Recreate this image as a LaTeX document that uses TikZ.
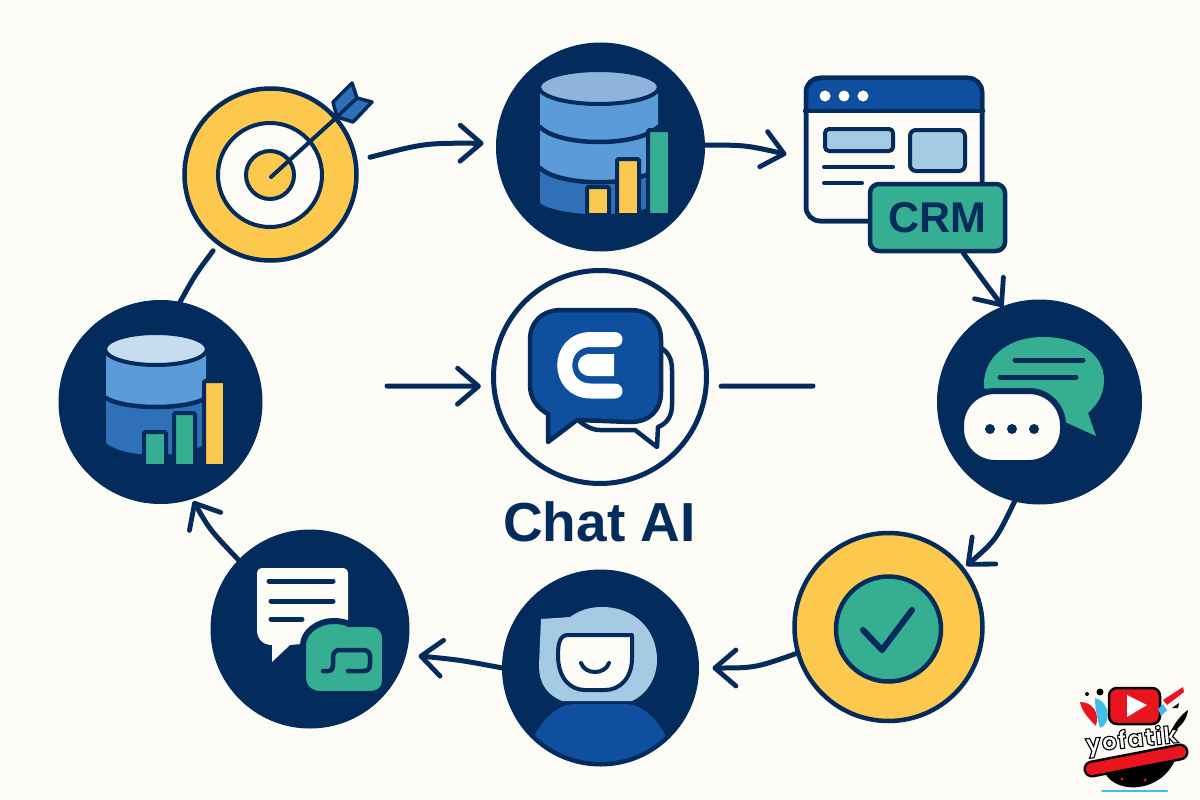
\documentclass[tikz,border=0pt]{standalone}
\usepackage{fontspec}
\setmainfont{Liberation Sans}
\newfontfamily\logofont[LetterSpace=4]{Poppins}
\usetikzlibrary{arrows.meta}
\definecolor{bg}{HTML}{FDFBF6}
\definecolor{navy}{HTML}{032B5C}
\definecolor{sun}{HTML}{FCC84E}
\definecolor{teal}{HTML}{36AE92}
\definecolor{royal}{HTML}{0F4F9F}
\definecolor{pale}{HTML}{A6CAE3}
\definecolor{midblue}{HTML}{5B9BD8}
\definecolor{deepblue}{HTML}{2F70B9}
\definecolor{topblue}{HTML}{8FB3DD}
\definecolor{topice}{HTML}{C5DDEE}
\definecolor{logored}{HTML}{E8141E}
\definecolor{logocyan}{HTML}{3FBDEB}
\tikzset{
  disc/.style={circle,inner sep=0pt,outer sep=0pt,fill=navy,draw=navy,line width=1pt},
  ring/.style={circle,inner sep=0pt,outer sep=0pt,draw=navy,line width=4.5pt},
  conn/.style={draw=navy,line width=5pt,line cap=round,line join=round},
  arr/.style={conn,-{Straight Barb[length=21pt,width=36pt,line width=4.8pt,round]}},
  ink/.style={draw=navy,line width=4.5pt,line cap=round,line join=round},
  thin/.style={draw=navy,line width=4pt,line cap=round,line join=round},
  bar/.style={draw=navy,line width=4pt,rounded corners=1.5pt},
  stripe/.style={draw=navy,line width=5pt,line cap=round},
}
\begin{document}
\begin{tikzpicture}[x=1pt,y=-1pt]
\useasboundingbox (0,0) rectangle (1200,800);
\fill[bg] (0,0) rectangle (1200,800);

% ---------- main nodes
\node[ring,fill=sun,minimum size=172pt] (target) at (270.5,174.5) {};
\node[disc,minimum size=208pt] (db1) at (600.5,147) {};
\node[draw=navy,fill=bg,line width=4.5pt,rounded corners=14pt,minimum width=176pt,minimum height=143pt,inner sep=0pt,outer sep=0pt] (crmwin) at (894,149.5) {};
\node[disc,minimum size=204pt] (chat) at (1039.5,402) {};
\node[ring,fill=sun,minimum size=188pt] (check) at (888.5,627) {};
\node[disc,minimum size=196pt] (avatar) at (600.5,668) {};
\node[disc,minimum size=198pt] (msg) at (310,629) {};
\node[disc,minimum size=203pt] (db2) at (160.5,402) {};
\node[ring,line width=5pt,minimum size=213pt] (hub) at (600,377) {};
\coordinate (inL) at (387,386);
\coordinate (outR) at (813,386);

% ---------- target icon
\draw[thin,fill=bg] (270,175) circle[radius=52];
\draw[thin,fill=sun] (270,175) circle[radius=24];
\draw[ink,line width=4pt] (271,177) -- (337,117);
\draw[thin,line width=3.5pt,fill=deepblue] (337,117) -- (333,102) -- (352,83) -- (357,98) -- (372,102) -- (353,122) -- cycle;
\draw[thin,line width=3.5pt] (337,117) -- (357,98);

% ---------- database 1
\fill[deepblue] (540,160) -- (540,203) .. controls (560,218) and (638,218) .. (658,203) -- (658,160) -- cycle;
\fill[midblue] (540,86) -- (540,168) .. controls (560,187) and (638,187) .. (658,168) -- (658,86) -- cycle;
\draw[ink] (540,127) .. controls (560,147) and (638,147) .. (658,127);
\draw[ink] (540,168) .. controls (560,187) and (638,187) .. (658,168);
\draw[thin,fill=topblue] (599,87) ellipse[x radius=60,y radius=17];
\draw[bar,fill=sun] (587,187) rectangle (609,215);
\draw[bar,fill=sun] (617,159) rectangle (639,215);
\draw[bar,fill=teal] (648,130) rectangle (670,215);

% ---------- CRM window
\begin{scope}
\clip[rounded corners=14pt] (805,77) rectangle (983,222);
\fill[royal] (805,77) rectangle (983,111);
\end{scope}
\node[draw=navy,line width=4.5pt,rounded corners=14pt,minimum width=176pt,minimum height=143pt,inner sep=0pt,outer sep=0pt] (crmframe) at (894,149.5) {};
\draw[ink] (805,111) -- (983,111);
\fill[white] (825,96) circle[radius=5.5] (844,96) circle[radius=5.5] (863,96) circle[radius=5.5];
\draw[thin,fill=pale,rounded corners=4pt] (825,129) rectangle (893,151);
\draw[thin,fill=pale,rounded corners=6pt] (910,130) rectangle (965,171);
\draw[thin] (824,167) -- (893,167);
\draw[thin] (824,183) -- (862,183);
\node[draw=navy,fill=teal,line width=4.5pt,rounded corners=9pt,minimum width=135pt,minimum height=67pt,inner sep=0pt,outer sep=2pt,text=navy,font=\bfseries\fontsize{43}{46}\selectfont] (crmbox) at (937.5,217.5) {CRM};

% ---------- hub icon
\draw[ink,fill=bg] (655,345) .. controls (668,350) and (672,358) .. (672,370) -- (672,405) .. controls (672,417) and (666,424) .. (658,427) -- (657,447) -- (635,430) -- (600,430) .. controls (592,430) and (585,426) .. (578,420);
\draw[ink,fill=royal] (562,310) -- (630,310) .. controls (650,310) and (661,322) .. (661,340) -- (661,392) .. controls (661,410) and (650,422) .. (630,422) -- (577,420) -- (548,442) -- (548,414) .. controls (537,408) and (530,398) .. (530,385) -- (530,340) .. controls (530,322) and (542,310) .. (562,310) -- cycle;
\draw[white,line width=15pt,line cap=round] (615,339.5) -- (591,339.5) .. controls (556,339.5) and (556,391) .. (591,391) -- (615,391);
\fill[white] (614,354) -- (590,354) .. controls (574,354) and (574,376) .. (590,376) -- (614,376) -- cycle;
\node[text=navy,font=\bfseries\fontsize{55}{60}\selectfont,inner sep=0pt,anchor=base] (title) at (599.5,541.5) {Chat AI};

% ---------- chat icon
\fill[teal] (984,388) .. controls (982,360) and (1005,337) .. (1043,337) .. controls (1080,337) and (1104,355) .. (1104,380) .. controls (1104,395) and (1097,405) .. (1088,413) -- (1096,436) -- (1065,422) -- (1040,410) -- cycle;
\draw[stripe] (1015,360) -- (1083,360);
\draw[stripe] (1000,377) -- (1076,377);
\draw[draw=navy,fill=bg,line width=6pt,rounded corners=34pt] (961,391) rectangle (1063,463);
\fill[navy] (990,429) circle[radius=5] (1012,429) circle[radius=5] (1034,429) circle[radius=5];

% ---------- check icon
\draw[ink,fill=teal] (888.5,629) circle[radius=52.5];
\draw[ink,line width=6pt] (863,630) -- (882,650) -- (912,610);

% ---------- avatar icon
\begin{scope}
\clip (600.5,668) circle[radius=94];
\fill[royal] (533,738) .. controls (545,715) and (560,704) .. (575,704) -- (625,704) .. controls (640,704) and (655,715) .. (667,738) -- (667,775) -- (533,775) -- cycle;
\end{scope}
\fill[pale] (541,619) -- (570,617) .. controls (580,610) and (590,607) .. (602,607) .. controls (635,607) and (657,630) .. (657,660) .. controls (657,680) and (645,695) .. (632,701) -- (562,701) .. controls (548,695) and (539,685) .. (539,665) -- cycle;
\draw[thin,fill=bg] (567,635) -- (632,635) -- (632,658) .. controls (632,678) and (620,690) .. (605,690) -- (585,690) .. controls (570,690) and (558,678) .. (558,655) .. controls (558,643) and (560,636) .. (567,635) -- cycle;
\draw[thin] (581,663) .. controls (585,675) and (605,675) .. (609,663);

% ---------- message icon
\fill[bg] (263,568) -- (342,568) .. controls (346,568) and (348,570) .. (348,574) -- (348,640) -- (290,645) -- (272,662) -- (272,645) .. controls (262,645) and (257,638) .. (257,630) -- (257,574) .. controls (257,570) and (259,568) .. (263,568) -- cycle;
\draw[stripe] (269,581) -- (333,581);
\draw[stripe] (271,601) -- (333,601);
\draw[stripe] (271,619) -- (302,619);
\draw[draw=navy,fill=teal,line width=6pt,line join=round] (303,645) .. controls (303,632) and (318,621) .. (333,621) .. controls (340,621) and (345,622) .. (349,624) -- (370,624) .. controls (380,624) and (385,630) .. (385,638) -- (385,680) .. controls (385,689) and (379,694) .. (370,694) -- (320,694) .. controls (310,694) and (303,687) .. (303,678) -- cycle;
\draw[ink] (323,671) -- (328,671) .. controls (332,671) and (333,668) .. (333,664) -- (333,658) .. controls (333,652) and (336,650) .. (340,650) -- (363,650) .. controls (368,650) and (370,653) .. (370,657) -- (370,664) .. controls (370,669) and (368,671) .. (363,671) -- (348,671);

% ---------- database 2
\fill[deepblue] (106,390) -- (106,443) .. controls (125,459) and (187,459) .. (206,443) -- (206,390) -- cycle;
\fill[midblue] (106,349) -- (106,398) .. controls (125,410) and (187,410) .. (206,398) -- (206,349) -- cycle;
\draw[ink] (106,398) .. controls (125,410) and (187,410) .. (206,398);
\draw[thin,fill=topice] (156,349) ellipse[x radius=51,y radius=16];
\draw[bar,fill=teal] (144,432) rectangle (166,466);
\draw[bar,fill=teal] (174,413) rectangle (195,466);
\draw[bar,fill=sun] (204,381) rectangle (225,466);

% ---------- connectors
\draw[arr,shorten <=15pt,shorten >=13pt] (target.9) .. controls (425,143) .. (db1.178);
\draw[arr,shorten >=20pt] (db1.1) .. controls (745,145) .. (crmwin.186);
\draw[arr] (crmbox.-54) .. controls (983,280) .. (chat.111);
\draw[arr,shorten >=5pt] (chat.256) .. controls (996,540) .. (check.38);
\draw[arr,shorten >=14pt] (check.196) .. controls (755,668) .. (avatar.0);
\draw[arr,shorten >=13pt] (avatar.180) .. controls (460,660) .. (msg.-15);
\draw[arr,shorten >=3pt] (msg.136) .. controls (210,530) .. (db2.-72);
\draw[conn,shorten >=9.5pt] (db2.79) .. controls (195,275) .. (target.233);
\draw[arr,shorten >=13pt] (inL) -- (hub.185);
\draw[conn,shorten <=15pt] (hub.-5) -- (outR);

% ---------- watermark
\fill[logocyan] (1095,698) .. controls (1112,703) and (1110,725) .. (1100,728) .. controls (1097,716) and (1095,710) .. (1095,698) -- cycle;
\fill[logored] (1080,702) .. controls (1092,702) and (1100,712) .. (1096,726) .. controls (1090,720) and (1082,712) .. (1080,702) -- cycle;
\fill[black] (1100,692) circle[radius=3.5] (1087,694) circle[radius=2];
\draw[black,line width=2.5pt,fill=logored,rounded corners=8pt] (1109,688) rectangle (1160,724);
\fill[white] (1127,695) -- (1147,705) -- (1127,717) -- cycle;
\fill[logored] (1163,700) -- (1183,687) -- (1184,692) -- (1167,705) -- cycle;
\fill[black] (1172,708) -- (1179,703) -- (1178,708) -- cycle;
\fill[logocyan] (1163,704) -- (1167,710) -- (1161,716) -- (1158,709) -- cycle;
\fill[black] (1170,733) .. controls (1175,722) and (1182,714) .. (1188,710) .. controls (1187,720) and (1180,728) .. (1170,733) -- cycle;
\fill[black] (1103,768) .. controls (1110,795) and (1160,795) .. (1175,760) -- cycle;
\draw[black,line width=17pt,line cap=round] (1092,769) -- (1180,752);
\draw[logored,line width=12pt,line cap=round] (1092,769) -- (1180,752);
\draw[logocyan,line width=2pt,line cap=round] (1102,791) -- (1167,791);
\fill[logored] (1122,779) circle[radius=1.6] (1145,780) circle[radius=1.6];
\node[rotate=6,text=white,inner sep=0pt,font=\logofont\bfseries\fontsize{24}{28}\selectfont] (brand) at (1132,741) {\special{pdf:code q 2 Tr 1.1 w 0 0 0 RG}yofatik\special{pdf:code Q}};
\end{tikzpicture}
\end{document}
